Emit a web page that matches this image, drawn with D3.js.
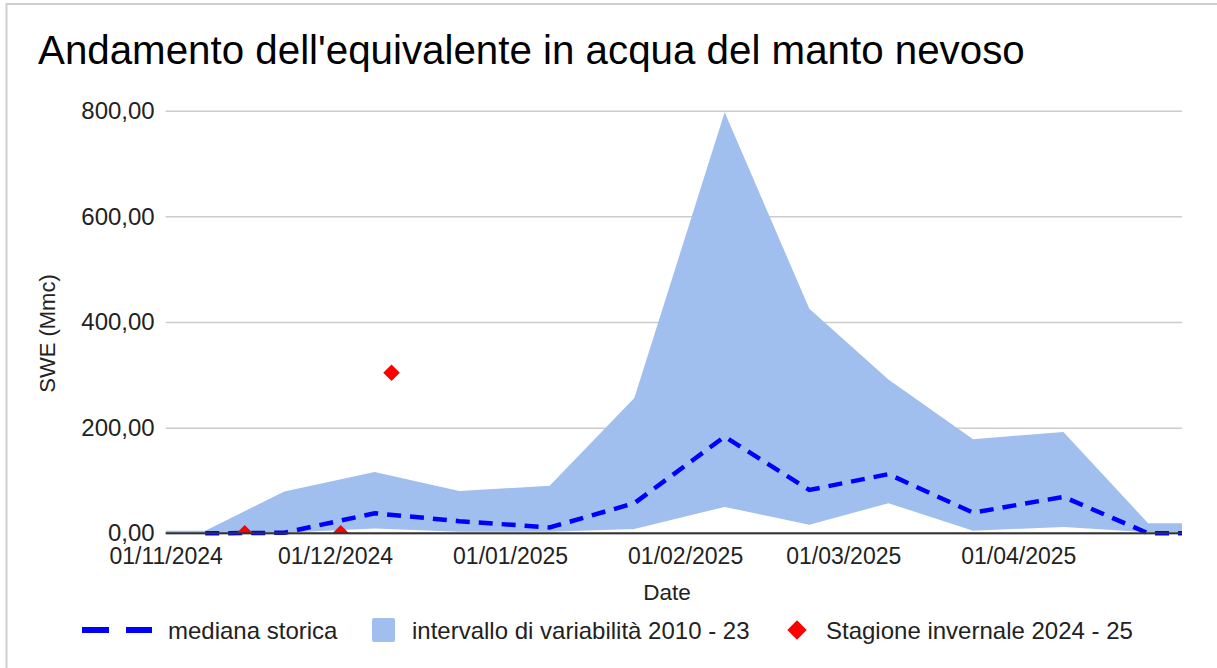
<!DOCTYPE html>
<html>
<head>
<meta charset="utf-8">
<script src="https://cdn.jsdelivr.net/npm/d3@7"></script>
<style>
  html, body { margin: 0; padding: 0; background: #fff; }
  svg { display: block; font-family: "Liberation Sans", Arial, sans-serif; }
</style>
</head>
<body>
<svg id="chart" width="1217" height="668"></svg>
<script>
// ---- data ----
const dates = ["2024-11-01","2024-11-08","2024-11-22","2024-12-08","2024-12-23","2025-01-08","2025-01-23","2025-02-08","2025-02-23","2025-03-09","2025-03-24","2025-04-09","2025-04-24","2025-04-30"];
const upperValues = [5, 5, 79, 116, 80, 90, 256, 797, 425, 291, 178, 192, 19, 19];
const lowerValues = [0, 0, 1, 9, 3, 3, 8, 50, 16, 57, 5, 12, 2, 2];
const medianValues = [null, 0, 1, 38, 23, 11, 57, 183, 82, 112, 39, 69, 0, 0];
const seasonDates = ["2024-11-15","2024-12-02","2024-12-11"];
const seasonValues = [0, 0, 304];
const xTickDates = ["2024-11-01","2024-12-01","2025-01-01","2025-02-01","2025-03-01","2025-04-01"];
const yTickValues = [0, 200, 400, 600, 800];
const titleText = "Andamento dell'equivalente in acqua del manto nevoso";
const xTitle = "Date";
const yTitle = "SWE (Mmc)";
const legendLabels = ["mediana storica", "intervallo di variabilità 2010 - 23", "Stagione invernale 2024 - 25"];

(function () {
const svg = d3.select("#chart");
const parse = d3.utcParse("%Y-%m-%d");
const pLeft = 165.7, pRight = 1182, pTop = 110.7, pBottom = 533.3;

const x = d3.scaleUtc().domain([parse("2024-11-01"), parse("2025-04-30")]).range([pLeft, pRight]);
const y = d3.scaleLinear().domain([0, 800]).range([pBottom, pTop]);

const loc = d3.formatLocale({decimal: ",", thousands: ".", grouping: [3], currency: ["", "€"]});
const yFmt = loc.format(".2f");
const xFmt = d3.utcFormat("%d/%m/%Y");

// border
svg.append("line").attr("x1", 6).attr("x2", 1217).attr("y1", 4).attr("y2", 4)
  .attr("stroke", "#cfcfcf").attr("stroke-width", 2);
svg.append("line").attr("x1", 6.5).attr("x2", 6.5).attr("y1", 3).attr("y2", 668)
  .attr("stroke", "#cfcfcf").attr("stroke-width", 2);

// title
svg.append("text").attr("x", 38).attr("y", 64).attr("font-size", 40.3).attr("fill", "#000")
  .text(titleText);

// gridlines + y axis
const yAxis = d3.axisLeft(y).tickValues(yTickValues).tickFormat(yFmt)
  .tickSizeInner(-(pRight - pLeft)).tickSizeOuter(0).tickPadding(11);
const gy = svg.append("g").attr("transform", `translate(${pLeft},0)`).call(yAxis);
gy.select(".domain").remove();
gy.selectAll(".tick line").attr("stroke", "#cccccc").attr("stroke-width", 1.5);
gy.selectAll(".tick text").attr("font-size", 24).attr("fill", "#222")
  .attr("font-family", "Liberation Sans, Arial, sans-serif");

// data
const rows = dates.map((d, i) => ({date: parse(d), hi: upperValues[i], lo: lowerValues[i], med: medianValues[i]}));

const area = d3.area().x(d => x(d.date)).y0(d => y(d.lo)).y1(d => y(d.hi));
svg.append("path").datum(rows).attr("d", area).attr("fill", "#a1bfee");

const line = d3.line().defined(d => d.med !== null).x(d => x(d.date)).y(d => y(d.med));
svg.append("path").datum(rows).attr("d", line).attr("fill", "none")
  .attr("stroke", "#0000ff").attr("stroke-width", 4.5).attr("stroke-dasharray", "14,9");

// season points (clipped to plot)
svg.append("clipPath").attr("id", "plotclip").append("rect")
  .attr("x", pLeft - 20).attr("y", pTop - 20).attr("width", pRight - pLeft + 40).attr("height", pBottom - pTop + 20);
const diamond = d3.symbol().type(d3.symbolDiamond2).size(175);
svg.append("g").attr("clip-path", "url(#plotclip)")
  .selectAll("path").data(seasonDates.map((d, i) => ({date: parse(d), v: seasonValues[i]})))
  .join("path")
  .attr("transform", d => `translate(${x(d.date)},${y(d.v)})`)
  .attr("d", diamond).attr("fill", "#ff0000");

// x axis
const xAxis = d3.axisBottom(x).tickValues(xTickDates.map(parse)).tickFormat(xFmt)
  .tickSize(0).tickPadding(14);
const gx = svg.append("g").attr("transform", `translate(0,${pBottom})`).call(xAxis);
gx.select(".domain").remove();
gx.selectAll(".tick text").attr("font-size", 23).attr("fill", "#222")
  .attr("font-family", "Liberation Sans, Arial, sans-serif");
svg.append("line").attr("x1", pLeft).attr("x2", pRight).attr("y1", pBottom).attr("y2", pBottom)
  .attr("stroke", "#333").attr("stroke-width", 2);

// axis titles
svg.append("text").attr("x", 667).attr("y", 600).attr("text-anchor", "middle")
  .attr("font-size", 22.5).attr("fill", "#222").text(xTitle);
svg.append("text").attr("transform", "translate(55,333.5) rotate(-90)").attr("text-anchor", "middle")
  .attr("font-size", 22).attr("fill", "#222").text(yTitle);

// legend
const lg = svg.append("g");
const ly = 630;
lg.append("line").attr("x1", 82).attr("x2", 152).attr("y1", ly).attr("y2", ly)
  .attr("stroke", "#0000ff").attr("stroke-width", 6).attr("stroke-dasharray", "27,17");
lg.append("text").attr("x", 168).attr("y", ly + 8.5).attr("font-size", 24).attr("fill", "#222").text(legendLabels[0]);
lg.append("rect").attr("x", 372).attr("y", ly - 12).attr("width", 23).attr("height", 24).attr("rx", 2)
  .attr("fill", "#a1bfee");
lg.append("text").attr("x", 412).attr("y", ly + 8.5).attr("font-size", 24).attr("fill", "#222").text(legendLabels[1]);
lg.append("path").attr("transform", `translate(797,${ly})`).attr("d", d3.symbol().type(d3.symbolDiamond2).size(240)())
  .attr("fill", "#ff0000");
lg.append("text").attr("x", 826).attr("y", ly + 8.5).attr("font-size", 24).attr("fill", "#222").text(legendLabels[2]);
})();
</script>
</body>
</html>
